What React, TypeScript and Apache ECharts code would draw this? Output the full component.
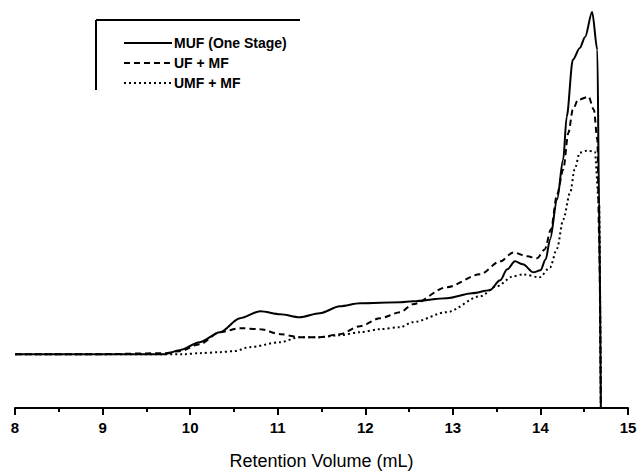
import React, { useEffect, useRef } from "react";
import * as echarts from "echarts";

// Retention volume (mL) and relative detector response (arbitrary units, baseline = 0)
const mufX = [8.0, 9.0, 9.71, 9.88, 10.11, 10.34, 10.57, 10.8, 11.03, 11.25, 11.48, 11.71, 11.94, 12.4, 12.54, 12.93, 13.22, 13.42, 13.54, 13.62, 13.71, 13.8, 13.92, 14.0, 14.06, 14.11, 14.19, 14.26, 14.3, 14.37, 14.45, 14.51, 14.59, 14.65, 14.67, 14.69];
const mufY = [0, 0, 0, 4, 12, 22, 36, 43, 40, 37, 41, 48, 51, 52, 53, 56, 61, 64, 74, 85, 93, 90, 82, 84, 95, 115, 155, 195, 238, 295, 307, 318, 343, 305, 150, -54];

const ufX = [8.0, 9.0, 9.71, 9.88, 10.11, 10.34, 10.57, 10.8, 11.03, 11.25, 11.48, 11.71, 11.94, 12.17, 12.4, 12.54, 12.93, 13.31, 13.54, 13.69, 13.85, 13.96, 14.05, 14.12, 14.19, 14.26, 14.32, 14.37, 14.43, 14.55, 14.61, 14.65, 14.67, 14.69];
const ufY = [0, 0, 1, 3, 10, 22, 26, 25, 20, 17, 17, 20, 28, 36, 42, 50, 67, 80, 93, 102, 98, 96, 105, 125, 160, 185, 222, 245, 255, 258, 245, 215, 120, -54];

const umfX = [8.0, 9.0, 9.94, 10.11, 10.34, 10.5, 10.68, 11.03, 11.25, 11.48, 11.71, 11.94, 12.17, 12.4, 12.54, 12.93, 13.31, 13.5, 13.69, 13.8, 13.99, 14.11, 14.19, 14.26, 14.34, 14.39, 14.45, 14.53, 14.62, 14.67, 14.69];
const umfY = [0, 0, 0, 1, 2, 3, 7, 12, 17, 17, 19, 22, 25, 27, 32, 42, 58, 68, 78, 80, 77, 87, 106, 135, 162, 185, 202, 204, 203, 150, -54];

const seriesNames = ["MUF (One Stage)", "UF + MF", "UMF + MF"];
const xTicks = { min: 8, max: 15, interval: 1 };
const axisTitle = "Retention Volume (mL)";

const zip = (xs: number[], ys: number[]) => xs.map((x, i) => [x, ys[i]]);

export default function App() {
  const ref = useRef<HTMLDivElement>(null);
  useEffect(() => {
    if (!ref.current) return;
    const chart = echarts.init(ref.current, undefined, { renderer: "svg" });
    const font = "'Liberation Sans', Arial, Helvetica, sans-serif";
    const line = (name: string, data: number[][], type: any, width: number) => ({
      name,
      type: "line",
      data,
      symbol: "none",
      smooth: 0.3,
      smoothMonotone: "x",
      clip: true,
      lineStyle: { color: "#000", width, type },
      itemStyle: { color: "#000" },
    });
    chart.setOption({
      animation: false,
      backgroundColor: "#fff",
      grid: { left: 15, right: 13, top: 0, bottom: 66 },
      xAxis: {
        type: "value",
        min: xTicks.min,
        max: xTicks.max,
        interval: xTicks.interval,
        name: axisTitle,
        nameLocation: "middle",
        nameGap: 44,
        nameTextStyle: { fontFamily: font, fontSize: 18, color: "#000" },
        axisLine: { onZero: false, lineStyle: { color: "#000", width: 2 } },
        axisTick: { show: true, length: 7, lineStyle: { color: "#000", width: 2 } },
        minorTick: { show: true, splitNumber: 2, length: 4, lineStyle: { color: "#000", width: 2 } },
        splitLine: { show: false },
        axisLabel: { fontFamily: font, fontSize: 15, fontWeight: "bold", color: "#000", margin: 12 },
      },
      yAxis: {
        type: "value",
        min: -54,
        max: 355,
        show: false,
        splitLine: { show: false },
      },
      legend: {
        orient: "vertical",
        left: 118,
        top: 31,
        itemWidth: 48,
        itemHeight: 14,
        itemGap: 6,
        data: seriesNames,
        itemStyle: { opacity: 0 },
        textStyle: { fontFamily: font, fontSize: 14, fontWeight: "bold", color: "#000", padding: [0, 0, 0, -3] },
      },
      graphic: [
        { type: "line", shape: { x1: 96, y1: 20, x2: 300, y2: 20 }, style: { stroke: "#000", lineWidth: 2 } },
        { type: "line", shape: { x1: 96, y1: 20, x2: 96, y2: 90 }, style: { stroke: "#000", lineWidth: 2 } },
      ],
      series: [
        line(seriesNames[0], zip(mufX, mufY), "solid", 2),
        line(seriesNames[1], zip(ufX, ufY), [6, 4], 2),
        line(seriesNames[2], zip(umfX, umfY), [2, 3], 2),
      ],
    });
    return () => chart.dispose();
  }, []);
  return <div ref={ref} style={{ width: 641, height: 475, position: "absolute", left: 0, top: 0 }} />;
}
